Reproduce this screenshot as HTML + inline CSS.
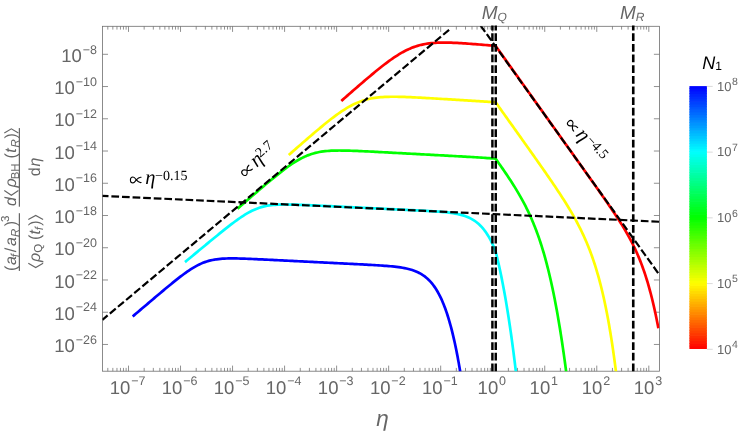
<!DOCTYPE html>
<html><head><meta charset="utf-8"><title>plot</title>
<style>html,body{margin:0;padding:0;background:#fff;}svg{display:block;will-change:transform;}text{text-rendering:geometricPrecision;}.s{font-family:"Liberation Sans",sans-serif;}.r{font-family:"Liberation Serif",serif;}</style></head>
<body>
<svg width="747" height="434" viewBox="0 0 747 434">
<rect width="747" height="434" fill="#ffffff"/>
<defs><clipPath id="pc"><rect x="102.4" y="26.3" width="557.1" height="344.9"/></clipPath>
<linearGradient id="cb" x1="0" y1="1" x2="0" y2="0"><stop offset="0" stop-color="#ff0000"/><stop offset="0.25" stop-color="#ffff00"/><stop offset="0.5" stop-color="#00ff00"/><stop offset="0.75" stop-color="#00ffff"/><stop offset="1" stop-color="#0000ff"/></linearGradient></defs>
<path d="M107.80,371.2 v-3.3 M107.80,26.3 v3.3 M112.84,371.2 v-3.3 M112.84,26.3 v3.3 M116.96,371.2 v-3.3 M116.96,26.3 v3.3 M120.44,371.2 v-3.3 M120.44,26.3 v3.3 M123.46,371.2 v-3.3 M123.46,26.3 v3.3 M126.12,371.2 v-3.3 M126.12,26.3 v3.3 M128.50,371.2 v-5.6 M128.50,26.3 v5.6 M144.16,371.2 v-3.3 M144.16,26.3 v3.3 M153.32,371.2 v-3.3 M153.32,26.3 v3.3 M159.83,371.2 v-3.3 M159.83,26.3 v3.3 M164.87,371.2 v-3.3 M164.87,26.3 v3.3 M168.99,371.2 v-3.3 M168.99,26.3 v3.3 M172.47,371.2 v-3.3 M172.47,26.3 v3.3 M175.49,371.2 v-3.3 M175.49,26.3 v3.3 M178.15,371.2 v-3.3 M178.15,26.3 v3.3 M180.53,371.2 v-5.6 M180.53,26.3 v5.6 M196.19,371.2 v-3.3 M196.19,26.3 v3.3 M205.35,371.2 v-3.3 M205.35,26.3 v3.3 M211.86,371.2 v-3.3 M211.86,26.3 v3.3 M216.90,371.2 v-3.3 M216.90,26.3 v3.3 M221.02,371.2 v-3.3 M221.02,26.3 v3.3 M224.50,371.2 v-3.3 M224.50,26.3 v3.3 M227.52,371.2 v-3.3 M227.52,26.3 v3.3 M230.18,371.2 v-3.3 M230.18,26.3 v3.3 M232.56,371.2 v-5.6 M232.56,26.3 v5.6 M248.22,371.2 v-3.3 M248.22,26.3 v3.3 M257.38,371.2 v-3.3 M257.38,26.3 v3.3 M263.89,371.2 v-3.3 M263.89,26.3 v3.3 M268.93,371.2 v-3.3 M268.93,26.3 v3.3 M273.05,371.2 v-3.3 M273.05,26.3 v3.3 M276.53,371.2 v-3.3 M276.53,26.3 v3.3 M279.55,371.2 v-3.3 M279.55,26.3 v3.3 M282.21,371.2 v-3.3 M282.21,26.3 v3.3 M284.59,371.2 v-5.6 M284.59,26.3 v5.6 M300.25,371.2 v-3.3 M300.25,26.3 v3.3 M309.41,371.2 v-3.3 M309.41,26.3 v3.3 M315.92,371.2 v-3.3 M315.92,26.3 v3.3 M320.96,371.2 v-3.3 M320.96,26.3 v3.3 M325.08,371.2 v-3.3 M325.08,26.3 v3.3 M328.56,371.2 v-3.3 M328.56,26.3 v3.3 M331.58,371.2 v-3.3 M331.58,26.3 v3.3 M334.24,371.2 v-3.3 M334.24,26.3 v3.3 M336.62,371.2 v-5.6 M336.62,26.3 v5.6 M352.28,371.2 v-3.3 M352.28,26.3 v3.3 M361.44,371.2 v-3.3 M361.44,26.3 v3.3 M367.95,371.2 v-3.3 M367.95,26.3 v3.3 M372.99,371.2 v-3.3 M372.99,26.3 v3.3 M377.11,371.2 v-3.3 M377.11,26.3 v3.3 M380.59,371.2 v-3.3 M380.59,26.3 v3.3 M383.61,371.2 v-3.3 M383.61,26.3 v3.3 M386.27,371.2 v-3.3 M386.27,26.3 v3.3 M388.65,371.2 v-5.6 M388.65,26.3 v5.6 M404.31,371.2 v-3.3 M404.31,26.3 v3.3 M413.47,371.2 v-3.3 M413.47,26.3 v3.3 M419.98,371.2 v-3.3 M419.98,26.3 v3.3 M425.02,371.2 v-3.3 M425.02,26.3 v3.3 M429.14,371.2 v-3.3 M429.14,26.3 v3.3 M432.62,371.2 v-3.3 M432.62,26.3 v3.3 M435.64,371.2 v-3.3 M435.64,26.3 v3.3 M438.30,371.2 v-3.3 M438.30,26.3 v3.3 M440.68,371.2 v-5.6 M440.68,26.3 v5.6 M456.34,371.2 v-3.3 M456.34,26.3 v3.3 M465.50,371.2 v-3.3 M465.50,26.3 v3.3 M472.01,371.2 v-3.3 M472.01,26.3 v3.3 M477.05,371.2 v-3.3 M477.05,26.3 v3.3 M481.17,371.2 v-3.3 M481.17,26.3 v3.3 M484.65,371.2 v-3.3 M484.65,26.3 v3.3 M487.67,371.2 v-3.3 M487.67,26.3 v3.3 M490.33,371.2 v-3.3 M490.33,26.3 v3.3 M492.71,371.2 v-5.6 M492.71,26.3 v5.6 M508.37,371.2 v-3.3 M508.37,26.3 v3.3 M517.53,371.2 v-3.3 M517.53,26.3 v3.3 M524.04,371.2 v-3.3 M524.04,26.3 v3.3 M529.08,371.2 v-3.3 M529.08,26.3 v3.3 M533.20,371.2 v-3.3 M533.20,26.3 v3.3 M536.68,371.2 v-3.3 M536.68,26.3 v3.3 M539.70,371.2 v-3.3 M539.70,26.3 v3.3 M542.36,371.2 v-3.3 M542.36,26.3 v3.3 M544.74,371.2 v-5.6 M544.74,26.3 v5.6 M560.40,371.2 v-3.3 M560.40,26.3 v3.3 M569.56,371.2 v-3.3 M569.56,26.3 v3.3 M576.07,371.2 v-3.3 M576.07,26.3 v3.3 M581.11,371.2 v-3.3 M581.11,26.3 v3.3 M585.23,371.2 v-3.3 M585.23,26.3 v3.3 M588.71,371.2 v-3.3 M588.71,26.3 v3.3 M591.73,371.2 v-3.3 M591.73,26.3 v3.3 M594.39,371.2 v-3.3 M594.39,26.3 v3.3 M596.77,371.2 v-5.6 M596.77,26.3 v5.6 M612.43,371.2 v-3.3 M612.43,26.3 v3.3 M621.59,371.2 v-3.3 M621.59,26.3 v3.3 M628.10,371.2 v-3.3 M628.10,26.3 v3.3 M633.14,371.2 v-3.3 M633.14,26.3 v3.3 M637.26,371.2 v-3.3 M637.26,26.3 v3.3 M640.74,371.2 v-3.3 M640.74,26.3 v3.3 M643.76,371.2 v-3.3 M643.76,26.3 v3.3 M646.42,371.2 v-3.3 M646.42,26.3 v3.3 M648.80,371.2 v-5.6 M648.80,26.3 v5.6 M102.4,344.46 h5.6 M659.5,344.46 h-5.6 M102.4,312.22 h5.6 M659.5,312.22 h-5.6 M102.4,279.98 h5.6 M659.5,279.98 h-5.6 M102.4,247.74 h5.6 M659.5,247.74 h-5.6 M102.4,215.50 h5.6 M659.5,215.50 h-5.6 M102.4,183.26 h5.6 M659.5,183.26 h-5.6 M102.4,151.02 h5.6 M659.5,151.02 h-5.6 M102.4,118.78 h5.6 M659.5,118.78 h-5.6 M102.4,86.54 h5.6 M659.5,86.54 h-5.6 M102.4,54.30 h5.6 M659.5,54.30 h-5.6" fill="none" stroke="#6e6e6e" stroke-width="0.75"/>
<rect x="102.4" y="26.3" width="557.1" height="344.9" fill="none" stroke="#6e6e6e" stroke-width="0.8"/>
<g clip-path="url(#pc)" fill="none" stroke-linecap="butt" stroke-linejoin="miter">
<path d="M132.70,316.46 L134.24,315.15 L135.78,313.83 L137.32,312.52 L138.86,311.21 L140.40,309.90 L141.94,308.59 L143.48,307.28 L145.02,305.97 L146.56,304.66 L148.10,303.35 L149.64,302.04 L151.18,300.73 L152.72,299.43 L154.26,298.12 L155.80,296.82 L157.34,295.52 L158.88,294.22 L160.42,292.93 L161.96,291.64 L163.50,290.35 L165.04,289.06 L166.58,287.78 L168.14,286.49 L169.70,285.21 L171.26,283.93 L172.82,282.67 L174.38,281.41 L175.96,280.15 L177.54,278.90 L179.12,277.67 L180.72,276.44 L182.32,275.23 L183.94,274.03 L185.56,272.85 L187.20,271.70 L188.86,270.56 L190.54,269.45 L192.24,268.37 L193.96,267.33 L195.70,266.33 L197.48,265.37 L199.28,264.47 L201.10,263.62 L202.96,262.84 L204.84,262.12 L206.74,261.47 L208.66,260.90 L210.60,260.40 L212.56,259.96 L214.54,259.59 L216.52,259.29 L218.52,259.04 L220.52,258.84 L222.52,258.69 L224.52,258.58 L226.52,258.50 L228.52,258.45 L230.52,258.43 L232.52,258.43 L234.52,258.44 L236.52,258.47 L238.52,258.51 L240.52,258.56 L242.52,258.62 L244.52,258.69 L246.52,258.76 L248.52,258.84 L250.52,258.92 L252.52,259.01 L254.52,259.10 L256.52,259.19 L258.52,259.28 L260.52,259.37 L262.52,259.47 L264.52,259.56 L266.52,259.66 L268.52,259.76 L270.52,259.85 L272.52,259.95 L274.52,260.05 L276.52,260.15 L278.52,260.25 L280.52,260.35 L282.52,260.45 L284.52,260.55 L286.52,260.65 L288.52,260.75 L290.52,260.85 L292.52,260.95 L294.52,261.05 L296.52,261.15 L298.52,261.25 L300.52,261.35 L302.52,261.45 L304.52,261.55 L306.52,261.65 L308.52,261.75 L310.52,261.85 L312.52,261.95 L314.52,262.05 L316.52,262.15 L318.52,262.25 L320.52,262.35 L322.52,262.45 L324.52,262.55 L326.52,262.65 L328.52,262.75 L330.52,262.85 L332.52,262.95 L334.52,263.05 L336.52,263.15 L338.52,263.25 L340.52,263.35 L342.52,263.45 L344.52,263.55 L346.52,263.65 L348.52,263.75 L350.52,263.86 L352.52,263.96 L354.52,264.06 L356.52,264.16 L358.52,264.26 L360.52,264.37 L362.52,264.47 L364.52,264.58 L366.52,264.68 L368.52,264.79 L370.52,264.90 L372.52,265.02 L374.52,265.13 L376.52,265.25 L378.52,265.37 L380.52,265.50 L382.52,265.64 L384.52,265.78 L386.52,265.93 L388.52,266.09 L390.52,266.27 L392.52,266.46 L394.52,266.66 L396.52,266.89 L398.52,267.15 L400.50,267.44 L402.48,267.75 L404.46,268.11 L406.42,268.52 L408.38,268.98 L410.32,269.49 L412.24,270.07 L414.14,270.73 L416.02,271.46 L417.86,272.28 L419.66,273.19 L421.40,274.18 L423.10,275.26 L424.74,276.44 L426.32,277.70 L427.82,279.02 L429.26,280.43 L430.64,281.90 L431.96,283.44 L433.20,285.01 L434.38,286.63 L435.52,288.31 L436.60,290.01 L437.64,291.77 L438.62,293.53 L439.56,295.32 L440.46,297.13 L441.32,298.95 L442.14,300.78 L442.94,302.66 L443.70,304.52 L444.44,306.41 L445.16,308.33 L445.84,310.22 L446.50,312.13 L447.14,314.05 L447.76,315.97 L448.36,317.90 L448.94,319.82 L449.52,321.81 L450.08,323.78 L450.62,325.75 L451.14,327.70 L451.66,329.70 L452.16,331.68 L452.64,333.62 L453.12,335.62 L453.58,337.59 L454.04,339.60 L454.48,341.57 L454.92,343.58 L455.34,345.54 L455.76,347.55 L456.18,349.60 L456.58,351.59 L456.98,353.63 L457.36,355.60 L457.74,357.60 L458.12,359.65 L458.48,361.62 L458.84,363.63 L459.20,365.67 L459.56,367.75 L459.90,369.75 L460.24,371.77 L460.58,373.84 L470.00,445.57" stroke="#0000ff" stroke-width="2.7"/>
<path d="M185.00,262.09 L186.54,260.81 L188.08,259.53 L189.62,258.25 L191.16,256.97 L192.70,255.69 L194.24,254.41 L195.78,253.14 L197.32,251.86 L198.86,250.58 L200.40,249.30 L201.96,248.01 L203.52,246.72 L205.08,245.43 L206.64,244.14 L208.20,242.85 L209.76,241.57 L211.32,240.29 L212.88,239.00 L214.44,237.73 L216.00,236.45 L217.56,235.18 L219.12,233.91 L220.68,232.65 L222.24,231.40 L223.82,230.13 L225.40,228.88 L226.98,227.63 L228.56,226.39 L230.16,225.15 L231.76,223.93 L233.36,222.72 L234.98,221.51 L236.60,220.33 L238.24,219.16 L239.90,218.00 L241.56,216.87 L243.24,215.77 L244.94,214.70 L246.66,213.66 L248.40,212.66 L250.16,211.71 L251.96,210.79 L253.78,209.94 L255.62,209.15 L257.50,208.41 L259.40,207.75 L261.32,207.16 L263.26,206.63 L265.22,206.18 L267.20,205.79 L269.18,205.46 L271.18,205.20 L273.18,204.98 L275.18,204.82 L277.18,204.69 L279.18,204.60 L281.18,204.54 L283.18,204.51 L285.18,204.50 L287.18,204.50 L289.18,204.53 L291.18,204.56 L293.18,204.61 L295.18,204.66 L297.18,204.72 L299.18,204.79 L301.18,204.86 L303.18,204.94 L305.18,205.02 L307.18,205.11 L309.18,205.19 L311.18,205.28 L313.18,205.37 L315.18,205.46 L317.18,205.55 L319.18,205.65 L321.18,205.74 L323.18,205.83 L325.18,205.93 L327.18,206.02 L329.18,206.12 L331.18,206.21 L333.18,206.31 L335.18,206.41 L337.18,206.50 L339.18,206.60 L341.18,206.70 L343.18,206.79 L345.18,206.89 L347.18,206.99 L349.18,207.08 L351.18,207.18 L353.18,207.28 L355.18,207.37 L357.18,207.47 L359.18,207.57 L361.18,207.66 L363.18,207.76 L365.18,207.86 L367.18,207.95 L369.18,208.05 L371.18,208.15 L373.18,208.24 L375.18,208.34 L377.18,208.44 L379.18,208.54 L381.18,208.63 L383.18,208.73 L385.18,208.83 L387.18,208.92 L389.18,209.02 L391.18,209.12 L393.18,209.22 L395.18,209.31 L397.18,209.41 L399.18,209.51 L401.18,209.60 L403.18,209.70 L405.18,209.80 L407.18,209.90 L409.18,210.00 L411.18,210.10 L413.18,210.20 L415.18,210.30 L417.18,210.40 L419.18,210.50 L421.18,210.61 L423.18,210.71 L425.18,210.82 L427.18,210.93 L429.18,211.05 L431.18,211.17 L433.18,211.29 L435.18,211.43 L437.18,211.57 L439.18,211.71 L441.18,211.88 L443.18,212.05 L445.18,212.24 L447.18,212.45 L449.18,212.69 L451.18,212.95 L453.16,213.24 L455.14,213.57 L457.12,213.95 L459.08,214.37 L461.04,214.86 L462.98,215.40 L464.90,216.02 L466.78,216.72 L468.64,217.50 L470.46,218.37 L472.22,219.32 L473.94,220.37 L475.60,221.51 L477.20,222.74 L478.74,224.06 L480.20,225.44 L481.60,226.89 L482.94,228.42 L484.20,229.98 L485.40,231.59 L486.54,233.23 L487.64,234.94 L488.68,236.66 L489.68,238.43 L490.64,240.23 L491.56,242.05 L492.44,243.90 L493.28,245.75 L494.08,247.60 L494.86,249.49 L495.60,251.36 L496.10,253.35 L496.58,255.29 L497.06,257.27 L497.54,259.28 L498.00,261.25 L498.46,263.25 L498.92,265.28 L499.36,267.26 L499.80,269.28 L500.24,271.33 L500.66,273.31 L501.08,275.33 L501.50,277.39 L501.90,279.37 L502.30,281.39 L502.70,283.44 L503.08,285.42 L503.46,287.42 L503.84,289.46 L504.22,291.52 L504.58,293.51 L504.94,295.52 L505.30,297.56 L505.66,299.62 L506.00,301.60 L506.34,303.61 L506.68,305.64 L507.02,307.70 L507.36,309.78 L507.68,311.77 L508.00,313.78 L508.32,315.81 L508.64,317.87 L508.96,319.96 L509.26,321.94 L509.56,323.94 L509.86,325.96 L510.16,328.01 L510.46,330.08 L510.76,332.17 L511.06,334.28 L511.34,336.28 L511.62,338.29 L511.90,340.33 L512.18,342.39 L512.46,344.47 L512.74,346.57 L513.02,348.69 L513.28,350.68 L513.54,352.69 L513.80,354.72 L514.06,356.77 L514.32,358.83 L514.58,360.92 L514.84,363.03 L515.10,365.15 L515.36,367.30 L515.60,369.29 L515.84,371.31 L516.08,373.34 L525.00,461.74" stroke="#00ffff" stroke-width="2.7"/>
<path d="M237.50,208.68 L239.02,207.36 L240.54,206.05 L242.06,204.73 L243.58,203.41 L245.10,202.10 L246.62,200.78 L248.14,199.47 L249.66,198.16 L251.18,196.85 L252.70,195.54 L254.22,194.23 L255.74,192.92 L257.26,191.62 L258.78,190.32 L260.32,189.00 L261.86,187.69 L263.40,186.38 L264.94,185.08 L266.48,183.78 L268.02,182.49 L269.56,181.20 L271.10,179.92 L272.66,178.63 L274.22,177.35 L275.78,176.08 L277.34,174.83 L278.92,173.57 L280.50,172.32 L282.08,171.09 L283.68,169.87 L285.28,168.66 L286.90,167.47 L288.54,166.28 L290.18,165.13 L291.84,163.99 L293.52,162.88 L295.22,161.80 L296.94,160.75 L298.68,159.74 L300.44,158.77 L302.22,157.84 L304.02,156.97 L305.86,156.14 L307.72,155.37 L309.60,154.66 L311.50,154.01 L313.42,153.43 L315.36,152.91 L317.32,152.45 L319.30,152.04 L321.28,151.70 L323.26,151.42 L325.26,151.18 L327.26,150.98 L329.26,150.83 L331.26,150.71 L333.26,150.63 L335.26,150.57 L337.26,150.54 L339.26,150.52 L341.26,150.53 L343.26,150.55 L345.26,150.58 L347.26,150.63 L349.26,150.68 L351.26,150.74 L353.26,150.81 L355.26,150.89 L357.26,150.97 L359.26,151.05 L361.26,151.14 L363.26,151.23 L365.26,151.33 L367.26,151.43 L369.26,151.52 L371.26,151.62 L373.26,151.72 L375.26,151.83 L377.26,151.93 L379.26,152.03 L381.26,152.14 L383.26,152.24 L385.26,152.35 L387.26,152.46 L389.26,152.56 L391.26,152.67 L393.26,152.78 L395.26,152.88 L397.26,152.99 L399.26,153.10 L401.26,153.20 L403.26,153.31 L405.26,153.42 L407.26,153.53 L409.26,153.64 L411.26,153.74 L413.26,153.85 L415.26,153.96 L417.26,154.07 L419.26,154.18 L421.26,154.28 L423.26,154.39 L425.26,154.50 L427.26,154.61 L429.26,154.72 L431.26,154.82 L433.26,154.93 L435.26,155.04 L437.26,155.15 L439.26,155.26 L441.26,155.37 L443.26,155.47 L445.26,155.58 L447.26,155.69 L449.26,155.80 L451.26,155.91 L453.26,156.02 L455.26,156.13 L457.26,156.23 L459.26,156.34 L461.26,156.45 L463.26,156.56 L465.26,156.68 L467.26,156.79 L469.26,156.90 L471.26,157.01 L473.26,157.13 L475.26,157.25 L477.26,157.37 L479.26,157.49 L481.26,157.62 L483.26,157.75 L485.26,157.88 L487.26,158.03 L489.26,158.18 L491.26,158.34 L493.26,158.51 L495.26,158.70 L495.60,158.73 L496.78,160.39 L497.94,162.02 L499.10,163.66 L500.26,165.31 L501.42,166.97 L502.58,168.64 L503.72,170.29 L504.86,171.96 L506.00,173.63 L507.12,175.29 L508.24,176.97 L509.36,178.66 L510.46,180.34 L511.56,182.04 L512.64,183.72 L513.72,185.43 L514.78,187.13 L515.84,188.86 L516.88,190.58 L517.92,192.32 L518.94,194.06 L519.94,195.80 L520.94,197.57 L521.92,199.33 L522.88,201.09 L523.84,202.89 L524.78,204.69 L525.70,206.48 L526.60,208.28 L527.50,210.11 L528.38,211.94 L529.24,213.77 L530.08,215.60 L530.90,217.43 L531.72,219.30 L532.52,221.17 L533.30,223.03 L534.06,224.89 L534.82,226.79 L535.56,228.69 L536.28,230.58 L536.98,232.45 L537.68,234.37 L538.36,236.28 L539.02,238.18 L539.68,240.11 L540.32,242.03 L540.96,244.00 L541.58,245.94 L542.18,247.86 L542.78,249.83 L543.36,251.76 L543.94,253.74 L544.50,255.69 L545.06,257.68 L545.60,259.64 L546.14,261.64 L546.66,263.60 L547.18,265.59 L547.68,267.55 L548.18,269.54 L548.66,271.49 L549.14,273.47 L549.62,275.49 L550.08,277.46 L550.54,279.46 L551.00,281.50 L551.44,283.48 L551.88,285.49 L552.32,287.54 L552.74,289.52 L553.16,291.53 L553.58,293.58 L553.98,295.56 L554.38,297.57 L554.78,299.60 L555.18,301.67 L555.56,303.66 L555.94,305.68 L556.32,307.73 L556.70,309.81 L557.06,311.80 L557.42,313.82 L557.78,315.87 L558.14,317.94 L558.48,319.92 L558.82,321.93 L559.16,323.96 L559.50,326.01 L559.84,328.09 L560.16,330.07 L560.48,332.08 L560.80,334.10 L561.12,336.15 L561.44,338.22 L561.76,340.31 L562.06,342.30 L562.36,344.30 L562.66,346.33 L562.96,348.37 L563.26,350.44 L563.56,352.53 L563.86,354.64 L564.14,356.63 L564.42,358.63 L564.70,360.66 L564.98,362.70 L565.26,364.76 L565.54,366.85 L565.82,368.95 L566.10,371.07 L566.36,373.05 L566.62,375.06 L575.00,448.85" stroke="#00ff00" stroke-width="2.7"/>
<path d="M288.70,155.04 L290.22,153.71 L291.74,152.38 L293.26,151.04 L294.78,149.71 L296.30,148.38 L297.82,147.05 L299.34,145.73 L300.86,144.40 L302.38,143.08 L303.90,141.76 L305.42,140.44 L306.94,139.12 L308.46,137.81 L309.98,136.50 L311.50,135.20 L313.04,133.88 L314.58,132.57 L316.12,131.27 L317.66,129.97 L319.20,128.68 L320.74,127.39 L322.30,126.10 L323.86,124.82 L325.42,123.55 L326.98,122.30 L328.56,121.04 L330.14,119.79 L331.74,118.55 L333.34,117.33 L334.94,116.13 L336.56,114.94 L338.20,113.76 L339.84,112.61 L341.50,111.47 L343.18,110.36 L344.88,109.27 L346.60,108.21 L348.34,107.18 L350.10,106.19 L351.88,105.24 L353.68,104.33 L355.50,103.47 L357.34,102.66 L359.20,101.91 L361.08,101.21 L362.98,100.56 L364.90,99.97 L366.84,99.44 L368.80,98.96 L370.76,98.54 L372.74,98.18 L374.72,97.86 L376.72,97.59 L378.72,97.37 L380.72,97.19 L382.72,97.04 L384.72,96.93 L386.72,96.84 L388.72,96.79 L390.72,96.75 L392.72,96.74 L394.72,96.74 L396.72,96.77 L398.72,96.80 L400.72,96.85 L402.72,96.90 L404.72,96.97 L406.72,97.04 L408.72,97.12 L410.72,97.21 L412.72,97.30 L414.72,97.40 L416.72,97.50 L418.72,97.60 L420.72,97.71 L422.72,97.82 L424.72,97.93 L426.72,98.04 L428.72,98.15 L430.72,98.27 L432.72,98.38 L434.72,98.50 L436.72,98.62 L438.72,98.74 L440.72,98.86 L442.72,98.98 L444.72,99.10 L446.72,99.22 L448.72,99.34 L450.72,99.46 L452.72,99.58 L454.72,99.71 L456.72,99.83 L458.72,99.95 L460.72,100.07 L462.72,100.20 L464.72,100.32 L466.72,100.44 L468.72,100.57 L470.72,100.69 L472.72,100.81 L474.72,100.94 L476.72,101.06 L478.72,101.18 L480.72,101.31 L482.72,101.43 L484.72,101.55 L486.72,101.68 L488.72,101.80 L490.72,101.92 L492.72,102.05 L494.72,102.17 L495.60,102.23 L496.78,103.88 L497.96,105.54 L499.14,107.19 L500.32,108.85 L501.50,110.50 L502.68,112.16 L503.86,113.81 L505.04,115.47 L506.22,117.12 L507.40,118.78 L508.58,120.44 L509.76,122.09 L510.94,123.75 L512.12,125.40 L513.30,127.06 L514.48,128.72 L515.66,130.38 L516.82,132.00 L517.98,133.63 L519.14,135.26 L520.30,136.90 L521.46,138.53 L522.62,140.16 L523.78,141.79 L524.94,143.42 L526.10,145.06 L527.26,146.69 L528.42,148.33 L529.58,149.96 L530.74,151.60 L531.90,153.24 L533.06,154.88 L534.22,156.52 L535.38,158.16 L536.54,159.81 L537.70,161.46 L538.86,163.11 L540.02,164.76 L541.18,166.41 L542.34,168.07 L543.50,169.73 L544.66,171.39 L545.82,173.06 L546.96,174.71 L548.10,176.36 L549.24,178.01 L550.38,179.67 L551.52,181.34 L552.66,183.01 L553.80,184.69 L554.92,186.35 L556.04,188.02 L557.16,189.69 L558.28,191.38 L559.40,193.08 L560.50,194.76 L561.60,196.45 L562.70,198.16 L563.78,199.85 L564.86,201.56 L565.94,203.28 L567.00,204.99 L568.06,206.72 L569.10,208.44 L570.14,210.18 L571.16,211.91 L572.18,213.66 L573.18,215.41 L574.18,217.18 L575.16,218.94 L576.12,220.70 L577.08,222.49 L578.02,224.27 L578.94,226.05 L579.86,227.87 L580.76,229.68 L581.64,231.48 L582.52,233.32 L583.38,235.16 L584.22,237.00 L585.04,238.84 L585.86,240.71 L586.66,242.58 L587.44,244.45 L588.20,246.31 L588.96,248.21 L589.70,250.11 L590.42,252.01 L591.12,253.89 L591.82,255.82 L592.50,257.74 L593.16,259.64 L593.82,261.59 L594.46,263.53 L595.08,265.45 L595.70,267.42 L596.30,269.37 L596.88,271.29 L597.46,273.26 L598.02,275.21 L598.58,277.20 L599.12,279.16 L599.64,281.09 L600.16,283.07 L600.66,285.01 L601.16,286.99 L601.66,289.01 L602.14,291.00 L602.62,293.02 L603.08,295.00 L603.54,297.02 L603.98,299.00 L604.42,301.01 L604.84,302.97 L605.26,304.96 L605.68,306.99 L606.08,308.97 L606.48,310.98 L606.88,313.02 L607.26,315.00 L607.64,317.02 L608.02,319.07 L608.38,321.04 L608.74,323.05 L609.10,325.10 L609.46,327.18 L609.80,329.18 L610.14,331.21 L610.48,333.27 L610.82,335.36 L611.14,337.37 L611.46,339.40 L611.78,341.47 L612.10,343.57 L612.40,345.57 L612.70,347.60 L613.00,349.65 L613.30,351.74 L613.60,353.86 L613.88,355.86 L614.16,357.89 L614.44,359.95 L614.72,362.04 L615.00,364.16 L615.26,366.15 L615.52,368.17 L615.78,370.21 L616.04,372.28 L616.30,374.38 L625.00,462.73" stroke="#ffff00" stroke-width="2.7"/>
<path d="M341.30,100.95 L342.82,99.62 L344.34,98.28 L345.86,96.95 L347.38,95.62 L348.90,94.29 L350.42,92.97 L351.94,91.64 L353.46,90.32 L354.98,89.00 L356.50,87.68 L358.02,86.36 L359.54,85.05 L361.06,83.74 L362.58,82.44 L364.10,81.14 L365.64,79.83 L367.18,78.52 L368.72,77.22 L370.26,75.92 L371.80,74.64 L373.34,73.36 L374.90,72.07 L376.46,70.80 L378.02,69.53 L379.58,68.28 L381.16,67.03 L382.74,65.79 L384.34,64.55 L385.94,63.34 L387.56,62.12 L389.18,60.94 L390.82,59.76 L392.46,58.61 L394.12,57.48 L395.80,56.36 L397.50,55.27 L399.22,54.21 L400.94,53.19 L402.68,52.20 L404.44,51.25 L406.24,50.33 L408.06,49.46 L409.90,48.63 L411.76,47.86 L413.64,47.13 L415.54,46.47 L417.46,45.86 L419.40,45.30 L421.34,44.81 L423.30,44.38 L425.28,43.99 L427.26,43.66 L429.26,43.38 L431.26,43.15 L433.26,42.97 L435.26,42.82 L437.26,42.71 L439.26,42.64 L441.26,42.59 L443.26,42.57 L445.26,42.58 L447.26,42.60 L449.26,42.65 L451.26,42.71 L453.26,42.78 L455.26,42.87 L457.26,42.97 L459.26,43.08 L461.26,43.20 L463.26,43.33 L465.26,43.46 L467.26,43.60 L469.26,43.74 L471.26,43.89 L473.26,44.04 L475.26,44.20 L477.26,44.35 L479.26,44.51 L481.26,44.67 L483.26,44.84 L485.26,45.00 L487.26,45.17 L489.26,45.34 L491.26,45.51 L493.26,45.68 L495.26,45.85 L495.60,45.88 L496.78,47.53 L497.96,49.18 L499.14,50.83 L500.32,52.49 L501.50,54.14 L502.68,55.79 L503.86,57.44 L505.04,59.10 L506.22,60.75 L507.40,62.40 L508.58,64.06 L509.76,65.71 L510.94,67.37 L512.12,69.02 L513.30,70.67 L514.48,72.33 L515.66,73.98 L516.84,75.63 L518.02,77.29 L519.20,78.94 L520.38,80.60 L521.56,82.25 L522.74,83.91 L523.92,85.56 L525.10,87.21 L526.28,88.87 L527.46,90.52 L528.64,92.18 L529.82,93.83 L531.00,95.49 L532.18,97.14 L533.36,98.79 L534.54,100.45 L535.72,102.10 L536.90,103.76 L538.08,105.41 L539.26,107.07 L540.44,108.72 L541.62,110.38 L542.80,112.03 L543.98,113.68 L545.16,115.34 L546.34,116.99 L547.52,118.65 L548.70,120.30 L549.88,121.96 L551.06,123.61 L552.24,125.27 L553.42,126.92 L554.60,128.58 L555.78,130.23 L556.96,131.88 L558.14,133.54 L559.32,135.19 L560.50,136.85 L561.68,138.50 L562.86,140.16 L564.04,141.81 L565.22,143.47 L566.40,145.12 L567.58,146.78 L568.76,148.43 L569.94,150.09 L571.12,151.74 L572.30,153.40 L573.48,155.05 L574.66,156.71 L575.84,158.36 L577.02,160.02 L578.20,161.67 L579.38,163.33 L580.56,164.98 L581.74,166.64 L582.92,168.30 L584.10,169.95 L585.28,171.61 L586.44,173.24 L587.60,174.87 L588.76,176.50 L589.92,178.13 L591.08,179.77 L592.24,181.40 L593.40,183.03 L594.56,184.67 L595.72,186.31 L596.88,187.95 L598.04,189.59 L599.20,191.23 L600.36,192.88 L601.52,194.53 L602.68,196.18 L603.84,197.84 L605.00,199.50 L606.16,201.17 L607.30,202.82 L608.44,204.47 L609.58,206.13 L610.72,207.79 L611.86,209.47 L612.98,211.13 L614.10,212.80 L615.22,214.48 L616.34,216.18 L617.44,217.86 L618.54,219.56 L619.62,221.24 L620.70,222.95 L621.76,224.65 L622.82,226.37 L623.86,228.09 L624.90,229.83 L625.92,231.57 L626.92,233.30 L627.92,235.07 L628.90,236.84 L629.86,238.60 L630.80,240.37 L631.74,242.18 L632.66,244.00 L633.56,245.81 L634.44,247.63 L635.30,249.45 L636.14,251.28 L636.96,253.11 L637.78,254.98 L638.58,256.86 L639.36,258.75 L640.12,260.63 L640.86,262.51 L641.58,264.39 L642.28,266.27 L642.98,268.20 L643.66,270.12 L644.32,272.03 L644.96,273.94 L645.60,275.89 L646.22,277.83 L646.82,279.76 L647.42,281.73 L648.00,283.68 L648.56,285.62 L649.12,287.59 L649.66,289.55 L650.20,291.54 L650.72,293.51 L651.24,295.52 L651.74,297.50 L652.24,299.51 L652.72,301.49 L653.20,303.51 L653.66,305.49 L654.12,307.51 L654.56,309.47 L655.00,311.47 L655.44,313.52 L655.86,315.50 L656.28,317.52 L656.68,319.48 L657.08,321.48 L657.48,323.51 L657.88,325.57 L658.26,327.56 L658.40,328.31" stroke="#ff0000" stroke-width="2.7"/>
<path d="M102.4,319.8 L450.30,28.78" stroke="#000" stroke-width="2.2" stroke-dasharray="7.7 2.9" stroke-dashoffset="0.9"/>
<path d="M102.4,195.9 L659.5,221.75" stroke="#000" stroke-width="2.2" stroke-dasharray="7.7 2.9" stroke-dashoffset="1.6"/>
<path d="M480.62,25.6 L659.5,274.95" stroke="#000" stroke-width="2.2" stroke-dasharray="7.7 2.9"/>
</g>
<path d="M492.4,371.2 L492.4,25.5" fill="none" stroke="#000" stroke-width="2.45" stroke-dasharray="7.75 2.9"/>
<path d="M495.75,371.2 L495.75,25.5" fill="none" stroke="#000" stroke-width="2.45" stroke-dasharray="7.75 2.9"/>
<path d="M633.25,371.2 L633.25,25.5" fill="none" stroke="#000" stroke-width="2.6" stroke-dasharray="7.75 2.9"/>
<text x="127.60" y="393.80" text-anchor="middle" class="s" font-size="18.5" fill="#666666">10<tspan font-size="12.5" dx="0.9" dy="-8.4">−7</tspan></text>
<text x="179.63" y="393.80" text-anchor="middle" class="s" font-size="18.5" fill="#666666">10<tspan font-size="12.5" dx="0.9" dy="-8.4">−6</tspan></text>
<text x="231.66" y="393.80" text-anchor="middle" class="s" font-size="18.5" fill="#666666">10<tspan font-size="12.5" dx="0.9" dy="-8.4">−5</tspan></text>
<text x="283.69" y="393.80" text-anchor="middle" class="s" font-size="18.5" fill="#666666">10<tspan font-size="12.5" dx="0.9" dy="-8.4">−4</tspan></text>
<text x="335.72" y="393.80" text-anchor="middle" class="s" font-size="18.5" fill="#666666">10<tspan font-size="12.5" dx="0.9" dy="-8.4">−3</tspan></text>
<text x="387.75" y="393.80" text-anchor="middle" class="s" font-size="18.5" fill="#666666">10<tspan font-size="12.5" dx="0.9" dy="-8.4">−2</tspan></text>
<text x="439.78" y="393.80" text-anchor="middle" class="s" font-size="18.5" fill="#666666">10<tspan font-size="12.5" dx="0.9" dy="-8.4">−1</tspan></text>
<text x="491.81" y="393.80" text-anchor="middle" class="s" font-size="18.5" fill="#666666">10<tspan font-size="12.5" dx="0.9" dy="-8.4">0</tspan></text>
<text x="543.84" y="393.80" text-anchor="middle" class="s" font-size="18.5" fill="#666666">10<tspan font-size="12.5" dx="0.9" dy="-8.4">1</tspan></text>
<text x="595.87" y="393.80" text-anchor="middle" class="s" font-size="18.5" fill="#666666">10<tspan font-size="12.5" dx="0.9" dy="-8.4">2</tspan></text>
<text x="647.90" y="393.80" text-anchor="middle" class="s" font-size="18.5" fill="#666666">10<tspan font-size="12.5" dx="0.9" dy="-8.4">3</tspan></text>
<text x="97.00" y="352.06" text-anchor="end" class="s" font-size="18.5" fill="#666666">10<tspan font-size="12.5" dx="0.9" dy="-8.4">−26</tspan></text>
<text x="97.00" y="319.82" text-anchor="end" class="s" font-size="18.5" fill="#666666">10<tspan font-size="12.5" dx="0.9" dy="-8.4">−24</tspan></text>
<text x="97.00" y="287.58" text-anchor="end" class="s" font-size="18.5" fill="#666666">10<tspan font-size="12.5" dx="0.9" dy="-8.4">−22</tspan></text>
<text x="97.00" y="255.34" text-anchor="end" class="s" font-size="18.5" fill="#666666">10<tspan font-size="12.5" dx="0.9" dy="-8.4">−20</tspan></text>
<text x="97.00" y="223.10" text-anchor="end" class="s" font-size="18.5" fill="#666666">10<tspan font-size="12.5" dx="0.9" dy="-8.4">−18</tspan></text>
<text x="97.00" y="190.86" text-anchor="end" class="s" font-size="18.5" fill="#666666">10<tspan font-size="12.5" dx="0.9" dy="-8.4">−16</tspan></text>
<text x="97.00" y="158.62" text-anchor="end" class="s" font-size="18.5" fill="#666666">10<tspan font-size="12.5" dx="0.9" dy="-8.4">−14</tspan></text>
<text x="97.00" y="126.38" text-anchor="end" class="s" font-size="18.5" fill="#666666">10<tspan font-size="12.5" dx="0.9" dy="-8.4">−12</tspan></text>
<text x="97.00" y="94.14" text-anchor="end" class="s" font-size="18.5" fill="#666666">10<tspan font-size="12.5" dx="0.9" dy="-8.4">−10</tspan></text>
<text x="97.00" y="61.90" text-anchor="end" class="s" font-size="18.5" fill="#666666">10<tspan font-size="12.5" dx="0.9" dy="-8.4">−8</tspan></text>
<text x="382.6" y="425.5" text-anchor="middle" class="s" font-style="italic" font-size="22.5" fill="#666666">η</text>
<text x="481.7" y="18.8" class="s" font-style="italic" font-size="19" fill="#666666">M<tspan font-size="12" dy="2.4">Q</tspan></text>
<text x="620.0" y="18.8" class="s" font-style="italic" font-size="19" fill="#666666">M<tspan font-size="12" dy="2.4">R</tspan></text>
<g transform="translate(129.8,183.4) rotate(0)"><path transform="translate(0.6,-0.55)" d="M10.7,-5.61 C8.77,-5.90 7.28,-4.60 5.88,-2.95 S4.07,0 2.57,0 C0.96,0 0,-1.18 0,-2.95 C0,-4.72 0.96,-5.90 2.57,-5.90 C4.07,-5.90 4.92,-4.43 5.88,-2.95 C7.28,-1.30 8.77,0 10.7,-0.30" fill="none" stroke="#000" stroke-width="1.1" stroke-linecap="round"/><text x="15.4" y="0.9" class="r" font-style="italic" font-size="20.5" fill="#000">η</text><text x="25.2" y="-3.9" class="r" font-size="14" fill="#000">−0.15</text></g>
<g transform="translate(244.5,177.3) rotate(-41.5)"><path transform="translate(0.6,-0.55)" d="M10.7,-5.61 C8.77,-5.90 7.28,-4.60 5.88,-2.95 S4.07,0 2.57,0 C0.96,0 0,-1.18 0,-2.95 C0,-4.72 0.96,-5.90 2.57,-5.90 C4.07,-5.90 4.92,-4.43 5.88,-2.95 C7.28,-1.30 8.77,0 10.7,-0.30" fill="none" stroke="#000" stroke-width="1.1" stroke-linecap="round"/><text x="15.4" y="0.9" class="r" font-style="italic" font-size="20.5" fill="#000">η</text><text x="24.6" y="-4.0" class="r" font-size="14" fill="#000">2.7</text></g>
<g transform="translate(565.6,123.2) rotate(48.5)"><path transform="translate(0.6,-0.55)" d="M10.7,-5.61 C8.77,-5.90 7.28,-4.60 5.88,-2.95 S4.07,0 2.57,0 C0.96,0 0,-1.18 0,-2.95 C0,-4.72 0.96,-5.90 2.57,-5.90 C4.07,-5.90 4.92,-4.43 5.88,-2.95 C7.28,-1.30 8.77,0 10.7,-0.30" fill="none" stroke="#000" stroke-width="1.1" stroke-linecap="round"/><text x="15.4" y="0.9" class="r" font-style="italic" font-size="20.5" fill="#000">η</text><text x="26.4" y="-3.5" class="r" font-size="14" fill="#000">−4.5</text></g>
<g transform="rotate(-90)" class="s" fill="#666666"><text x="-271.1" y="16.2" font-size="16">(</text><text x="-265.0" y="16.2" font-size="16" font-style="italic">a</text><text x="-257.2" y="18.7" font-size="11.5" font-style="italic">f</text><text x="-252.2" y="16.2" font-size="16">/</text><text x="-246.1" y="16.2" font-size="16" font-style="italic">a</text><text x="-237.0" y="18.7" font-size="11.5" font-style="italic">R</text><text x="-226.3" y="16.2" font-size="16">)</text><text x="-221.9" y="8.9" font-size="11.5">3</text><path d="M-270.9,19.4 H-213.2" stroke="#666666" stroke-width="1.25"/><path d="M-263.3,28.3 L-267.6,35.7 L-263.3,43.1" fill="none" stroke="#666666" stroke-width="1.15" stroke-linejoin="miter"/><text x="-262.0" y="40.0" font-size="16" font-style="italic">ρ</text><text x="-252.7" y="41.7" font-size="11.5">Q</text><text x="-240.0" y="40.0" font-size="16">(</text><text x="-234.6" y="40.0" font-size="16" font-style="italic">t</text><text x="-230.3" y="42.5" font-size="11.5" font-style="italic">f</text><text x="-225.8" y="40.0" font-size="16">)</text><path d="M-219.6,28.3 L-215.4,35.7 L-219.6,43.1" fill="none" stroke="#666666" stroke-width="1.15" stroke-linejoin="miter"/><text x="-206.0" y="16.2" font-size="16" font-style="italic">d</text><path d="M-190.6,4.3 L-195.2,11.35 L-190.6,18.4" fill="none" stroke="#666666" stroke-width="1.15" stroke-linejoin="miter"/><text x="-187.6" y="16.2" font-size="16" font-style="italic">ρ</text><text x="-179.3" y="18.7" font-size="11.5">BH</text><text x="-158.6" y="16.2" font-size="16">(</text><text x="-152.7" y="16.2" font-size="16" font-style="italic">t</text><text x="-147.6" y="18.7" font-size="11.5" font-style="italic">R</text><text x="-138.6" y="16.2" font-size="16">)</text><path d="M-133.0,4.3 L-128.8,11.35 L-133.0,18.4" fill="none" stroke="#666666" stroke-width="1.15" stroke-linejoin="miter"/><path d="M-206.7,19.4 H-128.1" stroke="#666666" stroke-width="1.25"/><text x="-176.2" y="40.0" font-size="16">d</text><text x="-166.4" y="40.0" font-size="16" font-style="italic">η</text></g>
<g><rect x="689.4" y="345.67" width="17.5" height="3.33" fill="#ff0500"/><rect x="689.4" y="343.04" width="17.5" height="3.33" fill="#ff0f00"/><rect x="689.4" y="340.41" width="17.5" height="3.33" fill="#ff1a00"/><rect x="689.4" y="337.78" width="17.5" height="3.33" fill="#ff2400"/><rect x="689.4" y="335.16" width="17.5" height="3.33" fill="#ff2e00"/><rect x="689.4" y="332.53" width="17.5" height="3.33" fill="#ff3800"/><rect x="689.4" y="329.90" width="17.5" height="3.33" fill="#ff4200"/><rect x="689.4" y="327.27" width="17.5" height="3.33" fill="#ff4c00"/><rect x="689.4" y="324.64" width="17.5" height="3.33" fill="#ff5700"/><rect x="689.4" y="322.01" width="17.5" height="3.33" fill="#ff6100"/><rect x="689.4" y="319.38" width="17.5" height="3.33" fill="#ff6b00"/><rect x="689.4" y="316.75" width="17.5" height="3.33" fill="#ff7500"/><rect x="689.4" y="314.12" width="17.5" height="3.33" fill="#ff8000"/><rect x="689.4" y="311.49" width="17.5" height="3.33" fill="#ff8a00"/><rect x="689.4" y="308.87" width="17.5" height="3.33" fill="#ff9400"/><rect x="689.4" y="306.24" width="17.5" height="3.33" fill="#ff9e00"/><rect x="689.4" y="303.61" width="17.5" height="3.33" fill="#ffa800"/><rect x="689.4" y="300.98" width="17.5" height="3.33" fill="#ffb200"/><rect x="689.4" y="298.35" width="17.5" height="3.33" fill="#ffbd00"/><rect x="689.4" y="295.72" width="17.5" height="3.33" fill="#ffc700"/><rect x="689.4" y="293.09" width="17.5" height="3.33" fill="#ffd100"/><rect x="689.4" y="290.46" width="17.5" height="3.33" fill="#ffdb00"/><rect x="689.4" y="287.83" width="17.5" height="3.33" fill="#ffe600"/><rect x="689.4" y="285.20" width="17.5" height="3.33" fill="#fff000"/><rect x="689.4" y="282.57" width="17.5" height="3.33" fill="#fffa00"/><rect x="689.4" y="279.95" width="17.5" height="3.33" fill="#faff00"/><rect x="689.4" y="277.32" width="17.5" height="3.33" fill="#f0ff00"/><rect x="689.4" y="274.69" width="17.5" height="3.33" fill="#e5ff00"/><rect x="689.4" y="272.06" width="17.5" height="3.33" fill="#dbff00"/><rect x="689.4" y="269.43" width="17.5" height="3.33" fill="#d1ff00"/><rect x="689.4" y="266.80" width="17.5" height="3.33" fill="#c7ff00"/><rect x="689.4" y="264.17" width="17.5" height="3.33" fill="#bdff00"/><rect x="689.4" y="261.54" width="17.5" height="3.33" fill="#b2ff00"/><rect x="689.4" y="258.91" width="17.5" height="3.33" fill="#a8ff00"/><rect x="689.4" y="256.29" width="17.5" height="3.33" fill="#9eff00"/><rect x="689.4" y="253.66" width="17.5" height="3.33" fill="#94ff00"/><rect x="689.4" y="251.03" width="17.5" height="3.33" fill="#8aff00"/><rect x="689.4" y="248.40" width="17.5" height="3.33" fill="#80ff00"/><rect x="689.4" y="245.77" width="17.5" height="3.33" fill="#75ff00"/><rect x="689.4" y="243.14" width="17.5" height="3.33" fill="#6bff00"/><rect x="689.4" y="240.51" width="17.5" height="3.33" fill="#61ff00"/><rect x="689.4" y="237.88" width="17.5" height="3.33" fill="#57ff00"/><rect x="689.4" y="235.25" width="17.5" height="3.33" fill="#4cff00"/><rect x="689.4" y="232.62" width="17.5" height="3.33" fill="#42ff00"/><rect x="689.4" y="230.00" width="17.5" height="3.33" fill="#38ff00"/><rect x="689.4" y="227.37" width="17.5" height="3.33" fill="#2eff00"/><rect x="689.4" y="224.74" width="17.5" height="3.33" fill="#24ff00"/><rect x="689.4" y="222.11" width="17.5" height="3.33" fill="#1aff00"/><rect x="689.4" y="219.48" width="17.5" height="3.33" fill="#0fff00"/><rect x="689.4" y="216.85" width="17.5" height="3.33" fill="#05ff00"/><rect x="689.4" y="214.22" width="17.5" height="3.33" fill="#00ff05"/><rect x="689.4" y="211.59" width="17.5" height="3.33" fill="#00ff0f"/><rect x="689.4" y="208.96" width="17.5" height="3.33" fill="#00ff1a"/><rect x="689.4" y="206.33" width="17.5" height="3.33" fill="#00ff24"/><rect x="689.4" y="203.71" width="17.5" height="3.33" fill="#00ff2e"/><rect x="689.4" y="201.08" width="17.5" height="3.33" fill="#00ff38"/><rect x="689.4" y="198.45" width="17.5" height="3.33" fill="#00ff42"/><rect x="689.4" y="195.82" width="17.5" height="3.33" fill="#00ff4c"/><rect x="689.4" y="193.19" width="17.5" height="3.33" fill="#00ff57"/><rect x="689.4" y="190.56" width="17.5" height="3.33" fill="#00ff61"/><rect x="689.4" y="187.93" width="17.5" height="3.33" fill="#00ff6b"/><rect x="689.4" y="185.30" width="17.5" height="3.33" fill="#00ff75"/><rect x="689.4" y="182.67" width="17.5" height="3.33" fill="#00ff80"/><rect x="689.4" y="180.04" width="17.5" height="3.33" fill="#00ff8a"/><rect x="689.4" y="177.42" width="17.5" height="3.33" fill="#00ff94"/><rect x="689.4" y="174.79" width="17.5" height="3.33" fill="#00ff9e"/><rect x="689.4" y="172.16" width="17.5" height="3.33" fill="#00ffa8"/><rect x="689.4" y="169.53" width="17.5" height="3.33" fill="#00ffb3"/><rect x="689.4" y="166.90" width="17.5" height="3.33" fill="#00ffbd"/><rect x="689.4" y="164.27" width="17.5" height="3.33" fill="#00ffc7"/><rect x="689.4" y="161.64" width="17.5" height="3.33" fill="#00ffd1"/><rect x="689.4" y="159.01" width="17.5" height="3.33" fill="#00ffdb"/><rect x="689.4" y="156.38" width="17.5" height="3.33" fill="#00ffe5"/><rect x="689.4" y="153.75" width="17.5" height="3.33" fill="#00fff0"/><rect x="689.4" y="151.12" width="17.5" height="3.33" fill="#00fffa"/><rect x="689.4" y="148.50" width="17.5" height="3.33" fill="#00faff"/><rect x="689.4" y="145.87" width="17.5" height="3.33" fill="#00f0ff"/><rect x="689.4" y="143.24" width="17.5" height="3.33" fill="#00e5ff"/><rect x="689.4" y="140.61" width="17.5" height="3.33" fill="#00dbff"/><rect x="689.4" y="137.98" width="17.5" height="3.33" fill="#00d1ff"/><rect x="689.4" y="135.35" width="17.5" height="3.33" fill="#00c7ff"/><rect x="689.4" y="132.72" width="17.5" height="3.33" fill="#00bdff"/><rect x="689.4" y="130.09" width="17.5" height="3.33" fill="#00b3ff"/><rect x="689.4" y="127.46" width="17.5" height="3.33" fill="#00a8ff"/><rect x="689.4" y="124.84" width="17.5" height="3.33" fill="#009eff"/><rect x="689.4" y="122.21" width="17.5" height="3.33" fill="#0094ff"/><rect x="689.4" y="119.58" width="17.5" height="3.33" fill="#008aff"/><rect x="689.4" y="116.95" width="17.5" height="3.33" fill="#0080ff"/><rect x="689.4" y="114.32" width="17.5" height="3.33" fill="#0075ff"/><rect x="689.4" y="111.69" width="17.5" height="3.33" fill="#006bff"/><rect x="689.4" y="109.06" width="17.5" height="3.33" fill="#0061ff"/><rect x="689.4" y="106.43" width="17.5" height="3.33" fill="#0057ff"/><rect x="689.4" y="103.80" width="17.5" height="3.33" fill="#004cff"/><rect x="689.4" y="101.17" width="17.5" height="3.33" fill="#0042ff"/><rect x="689.4" y="98.55" width="17.5" height="3.33" fill="#0038ff"/><rect x="689.4" y="95.92" width="17.5" height="3.33" fill="#002eff"/><rect x="689.4" y="93.29" width="17.5" height="3.33" fill="#0024ff"/><rect x="689.4" y="90.66" width="17.5" height="3.33" fill="#001aff"/><rect x="689.4" y="88.03" width="17.5" height="3.33" fill="#000fff"/><rect x="689.4" y="86.10" width="17.5" height="2.63" fill="#0005ff"/></g>
<path d="M706.9,349.30 h5.8" stroke="#c8c8c8" stroke-width="0.7"/>
<text x="717.00" y="353.60" text-anchor="start" class="s" font-size="13" fill="#666666">10<tspan font-size="10.5" dx="0.5" dy="-5.4">4</tspan></text>
<path d="M706.9,283.57 h5.8" stroke="#c8c8c8" stroke-width="0.7"/>
<text x="717.00" y="287.88" text-anchor="start" class="s" font-size="13" fill="#666666">10<tspan font-size="10.5" dx="0.5" dy="-5.4">5</tspan></text>
<path d="M706.9,217.85 h5.8" stroke="#c8c8c8" stroke-width="0.7"/>
<text x="717.00" y="222.15" text-anchor="start" class="s" font-size="13" fill="#666666">10<tspan font-size="10.5" dx="0.5" dy="-5.4">6</tspan></text>
<path d="M706.9,152.13 h5.8" stroke="#c8c8c8" stroke-width="0.7"/>
<text x="717.00" y="156.43" text-anchor="start" class="s" font-size="13" fill="#666666">10<tspan font-size="10.5" dx="0.5" dy="-5.4">7</tspan></text>
<path d="M706.9,86.40 h5.8" stroke="#c8c8c8" stroke-width="0.7"/>
<text x="717.00" y="90.70" text-anchor="start" class="s" font-size="13" fill="#666666">10<tspan font-size="10.5" dx="0.5" dy="-5.4">8</tspan></text>
<text x="702.3" y="68.7" class="s" font-style="italic" font-size="18" fill="#000">N<tspan font-size="12" font-style="normal" dy="1.6">1</tspan></text>
</svg>
</body></html>
